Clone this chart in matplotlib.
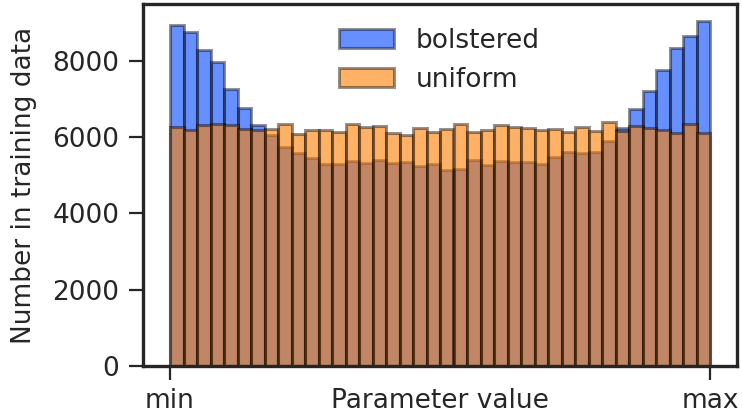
import numpy as np
import matplotlib

matplotlib.use("Agg")
import matplotlib.pyplot as plt  # noqa: E402

# 40 equal-width bins between the parameter's min and max
n_bins = 40
bolstered = [
    8950, 8770, 8290, 7960, 7260, 6760, 6320, 6050, 5740, 5590,
    5460, 5300, 5300, 5370, 5330, 5390, 5330, 5340, 5240, 5290,
    5150, 5170, 5410, 5260, 5370, 5350, 5350, 5300, 5490, 5620,
    5590, 5620, 5910, 6230, 6730, 7200, 7760, 8340, 8660, 9040,
]
uniform = [
    6260, 6190, 6320, 6335, 6330, 6220, 6200, 6220, 6335, 6090,
    6200, 6180, 6130, 6350, 6270, 6290, 6120, 6070, 6240, 6140,
    6220, 6335, 6130, 6195, 6310, 6270, 6250, 6190, 6220, 6130,
    6265, 6160, 6400, 6170, 6290, 6250, 6200, 6120, 6335, 6120,
]
x_ticks = [0, 1]
x_ticklabels = ["min", "max"]
y_ticks = [0, 2000, 4000, 6000, 8000]

edges = np.linspace(0, 1, n_bins + 1)
lefts = edges[:-1]

ink = "#262626"
fs = 19
plt.rcParams["font.family"] = ["DejaVu Sans"]

fig = plt.figure(figsize=(7.42, 4.17), dpi=100)
ax = fig.add_axes([143 / 742, 51 / 417, 594 / 742, 362 / 417])

edge = (0, 0, 0, 0.42)
ax.hist(lefts, bins=edges, weights=bolstered, facecolor=(0, 0.267, 1, 0.6),
        edgecolor=edge, linewidth=2.2, label="bolstered")
ax.hist(lefts, bins=edges, weights=uniform, facecolor=(1, 0.5, 0, 0.6),
        edgecolor=edge, linewidth=2.2, label="uniform")

ax.set_xticks(x_ticks)
ax.set_xticklabels(x_ticklabels)
ax.set_yticks(y_ticks)
ax.tick_params(axis="both", labelsize=fs, length=10, width=1.6, colors=ink)
ax.tick_params(axis="y", pad=7)
ax.tick_params(axis="x", pad=6)
for s in ax.spines.values():
    s.set_linewidth(2.4)
    s.set_color(ink)

ax.set_ylabel("Number in training data", fontsize=fs, color=ink, labelpad=11)
ax.set_xlabel("Parameter value", fontsize=fs, color=ink)
ax.xaxis.set_label_coords(0.5, -0.062)

ax.legend(loc="upper left", frameon=False, fontsize=fs, labelcolor=ink,
          bbox_to_anchor=(0.29, 1.0), handlelength=2.1, handleheight=0.75)

fig.savefig("out.png", dpi=100)
